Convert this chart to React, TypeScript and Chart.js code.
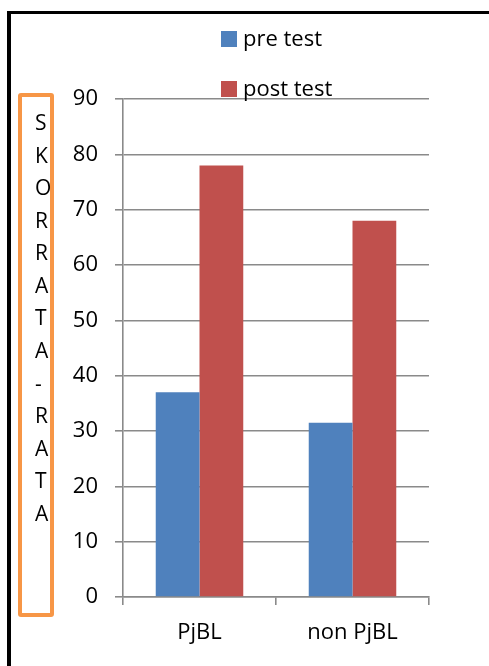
import React, { useEffect, useRef } from "react";
import { Chart, registerables } from "chart.js";

Chart.register(...registerables);

// ---- data ----
const categories = ["PjBL", "non PjBL"];
const seriesNames = ["pre test", "post test"];
const preTest = [37, 31.5];
const postTest = [78, 68];
const yMin = 0;
const yMax = 90;
const yStep = 10;
const axisTitleLetters = ["S", "K", "O", "R", "R", "A", "T", "A", "-", "R", "A", "T", "A"];

const FONT = "'Open Sans', 'Noto Sans', sans-serif";
const BLUE = "#4F81BD";
const RED = "#C0504D";
const GRID = "#8a8a8a";

const legendPlugin = {
  id: "stackedLegend",
  afterDraw(chart: any) {
    const ctx = chart.ctx as CanvasRenderingContext2D;
    ctx.save();
    chart.data.datasets.forEach((ds: any, i: number) => {
      const y = 31 + i * 50;
      ctx.fillStyle = ds.backgroundColor;
      ctx.fillRect(221, y, 16, 16);
      ctx.fillStyle = "#000";
      ctx.font = `22px ${FONT}`;
      ctx.textBaseline = "alphabetic";
      ctx.textAlign = "left";
      ctx.fillText(ds.label, 243, y + 15);
    });
    ctx.restore();
  },
};

export default function App() {
  const canvasRef = useRef<HTMLCanvasElement | null>(null);

  useEffect(() => {
    if (!canvasRef.current) return;
    const chart = new Chart(canvasRef.current, {
      type: "bar",
      data: {
        labels: categories,
        datasets: [
          {
            label: seriesNames[0],
            data: preTest,
            backgroundColor: BLUE,
            categoryPercentage: 0.572,
            barPercentage: 1,
          },
          {
            label: seriesNames[1],
            data: postTest,
            backgroundColor: RED,
            categoryPercentage: 0.572,
            barPercentage: 1,
          },
        ],
      },
      options: {
        responsive: false,
        animation: false,
        devicePixelRatio: 1,
        layout: { padding: { left: 0, right: 60, top: 99, bottom: 0 } },
        plugins: {
          legend: { display: false },
          tooltip: { enabled: false },
          title: { display: false },
        },
        scales: {
          x: {
            afterFit: (s: any) => {
              s.height = 69;
            },
            grid: {
              offset: true,
              drawOnChartArea: false,
              drawTicks: true,
              tickLength: 8,
              color: GRID,
              lineWidth: 1.6,
            },
            border: { display: true, color: GRID, width: 1.6 },
            ticks: {
              color: "#000",
              font: { family: FONT, size: 22 },
              padding: 15,
              maxRotation: 0,
            },
          },
          y: {
            min: yMin,
            max: yMax,
            afterFit: (s: any) => {
              s.width = 123;
            },
            grid: {
              drawOnChartArea: true,
              drawTicks: true,
              tickLength: 8,
              color: GRID,
              lineWidth: 1.6,
            },
            border: { display: true, color: GRID, width: 1.6 },
            ticks: {
              stepSize: yStep,
              color: "#000",
              font: { family: FONT, size: 22 },
              padding: 17,
            },
          },
        },
      },
      plugins: [legendPlugin],
    });
    return () => chart.destroy();
  }, []);

  return (
    <div
      style={{
        position: "absolute",
        left: 0,
        top: 0,
        width: 489,
        height: 666,
        overflow: "hidden",
        background: "#fff",
      }}
    >
      <canvas
        ref={canvasRef}
        width={489}
        height={666}
        style={{ position: "absolute", left: 0, top: 0, width: 489, height: 666 }}
      />
      <div
        style={{
          position: "absolute",
          left: 7,
          top: 11,
          width: 1000,
          height: 1000,
          borderLeft: "4px solid #000",
          borderTop: "3px solid #000",
          boxSizing: "border-box",
        }}
      />
      <div
        style={{
          position: "absolute",
          left: 18,
          top: 93,
          width: 36,
          height: 524,
          border: "4px solid #F79646",
          borderRadius: 3,
          boxSizing: "border-box",
        }}
      />
      <div
        style={{
          position: "absolute",
          left: 35,
          top: 106,
          fontFamily: FONT,
          fontSize: 21,
          lineHeight: "32.57px",
          color: "#000",
        }}
      >
        {axisTitleLetters.map((ch, i) => (
          <div key={i}>{ch}</div>
        ))}
      </div>
    </div>
  );
}
